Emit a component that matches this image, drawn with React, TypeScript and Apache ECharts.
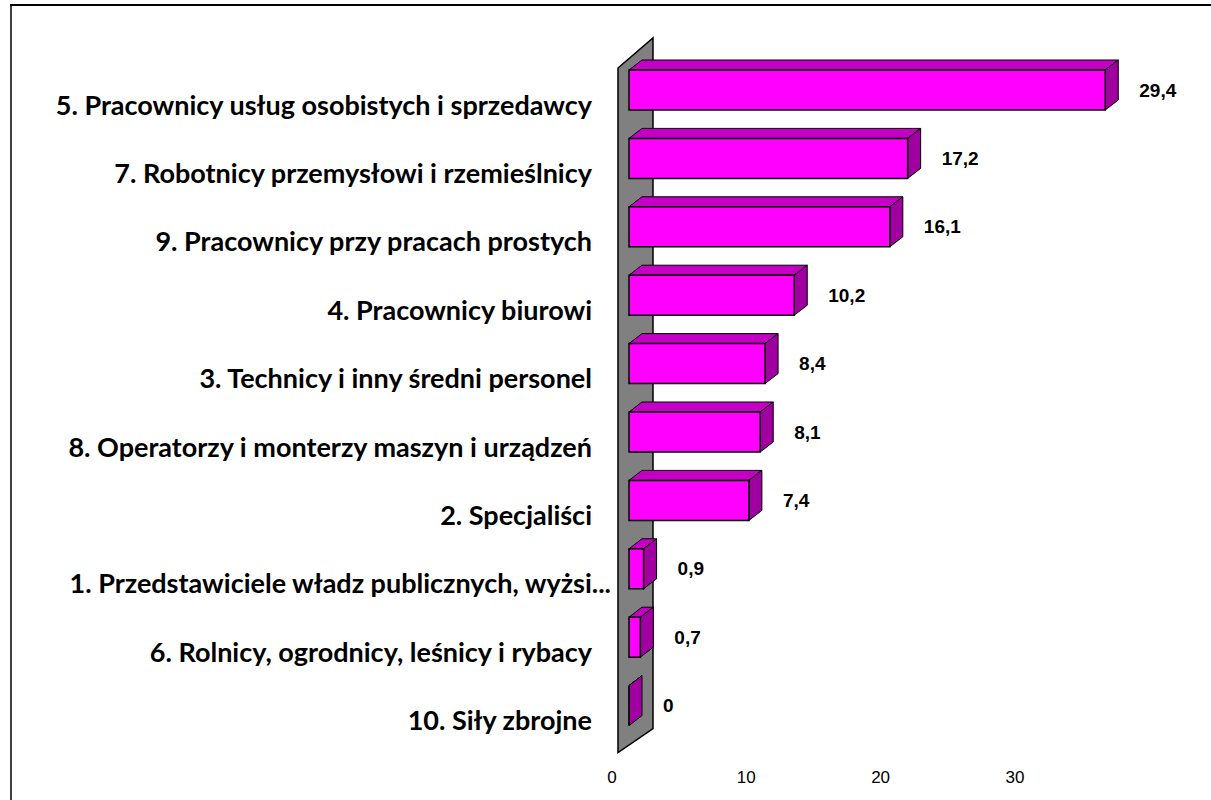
import React, { useEffect, useRef } from "react";
import * as echarts from "echarts";

const categories = [
  "5. Pracownicy usług osobistych i sprzedawcy",
  "7. Robotnicy przemysłowi i rzemieślnicy",
  "9. Pracownicy przy pracach prostych",
  "4. Pracownicy biurowi",
  "3. Technicy i inny średni personel",
  "8. Operatorzy i monterzy maszyn i urządzeń",
  "2. Specjaliści",
  "1. Przedstawiciele władz publicznych, wyżsi...",
  "6. Rolnicy, ogrodnicy, leśnicy i rybacy",
  "10. Siły zbrojne",
];
const values = [29.4, 17.2, 16.1, 10.2, 8.4, 8.1, 7.4, 0.9, 0.7, 0];
const truncatedIndex = 7;

const FRONT = "#FF00FF";
const TOP = "#C400C4";
const SIDE = "#A000A0";
const DX = 13;
const DY = 10;

export default function App() {
  const ref = useRef<HTMLDivElement>(null);
  useEffect(() => {
    if (!ref.current) return;
    const chart = echarts.init(ref.current, null, { renderer: "svg" });
    const labelFont = {
      fontFamily: "Lato",
      fontWeight: "bold" as const,
      fontSize: 27,
      color: "#000",
    };
    chart.setOption({
      animation: false,
      backgroundColor: "#fff",
      graphic: [
        { type: "line", shape: { x1: 10, y1: 5, x2: 1211, y2: 5 }, style: { stroke: "#000", lineWidth: 2 } },
        { type: "line", shape: { x1: 11, y1: 5, x2: 11, y2: 800 }, style: { stroke: "#000", lineWidth: 1.5 } },
      ],
      grid: [
        { left: 629, top: 55.8, width: 16.2 * 35, height: 684 },
        { left: 612, top: 700, width: 537.2, height: 64 },
      ],
      xAxis: [
        { type: "value", gridIndex: 0, min: 0, max: 35, show: false },
        {
          type: "value",
          gridIndex: 1,
          min: 0,
          max: 40,
          interval: 10,
          axisLine: { show: false },
          axisTick: { show: false },
          splitLine: { show: false },
          axisLabel: {
            showMaxLabel: false,
            margin: 5,
            fontSize: 17,
            fontFamily: "Liberation Sans",
            color: "#000",
          },
        },
      ],
      yAxis: [
        {
          type: "category",
          gridIndex: 0,
          inverse: true,
          data: categories,
          axisLine: { show: false },
          axisTick: { show: false },
          splitLine: { show: false },
          axisLabel: {
            margin: 18,
            interval: 0,
            formatter: (val: string, idx: number) =>
              idx === truncatedIndex ? `{w|${val}}` : `{n|${val}}`,
            rich: {
              n: { ...labelFont, padding: [28, 19, 0, 0] },
              w: { ...labelFont, padding: [28, 0, 0, 0] },
            },
          },
        },
        { type: "value", gridIndex: 1, show: false, min: 0, max: 1 },
      ],
      series: [
        {
          type: "custom",
          xAxisIndex: 0,
          yAxisIndex: 0,
          data: [[0, 0]],
          silent: true,
          renderItem: (params: any, api: any) => {
            const first = api.coord([0, 0]);
            const last = api.coord([0, categories.length - 1]);
            const x0 = first[0];
            return {
              type: "polygon",
              shape: {
                points: [
                  [x0 - 11, first[1] - 22],
                  [x0 + 24, first[1] - 52],
                  [x0 + 24, last[1] + 23],
                  [x0 - 11, last[1] + 47],
                ],
              },
              style: { fill: "#808080", stroke: "#000", lineWidth: 1.5 },
            };
          },
        },
        {
          type: "custom",
          xAxisIndex: 0,
          yAxisIndex: 0,
          data: values.map((v, i) => [v, i]),
          encode: { x: 0, y: 1 },
          silent: true,
          renderItem: (params: any, api: any) => {
            const v = api.value(0);
            const idx = api.value(1);
            const start = api.coord([0, idx]);
            const end = api.coord([v, idx]);
            const band = api.size([0, 1])[1];
            const h = band * 0.585;
            const cy = start[1];
            const top = cy - h / 2;
            const bot = cy + h / 2;
            const x0 = start[0];
            const x1 = end[0];
            return {
              type: "group",
              children: [
                {
                  type: "polygon",
                  shape: { points: [[x0, top], [x1, top], [x1 + DX, top - DY], [x0 + DX, top - DY]] },
                  style: { fill: TOP, stroke: "#000", lineWidth: 1 },
                },
                {
                  type: "polygon",
                  shape: { points: [[x1, top], [x1 + DX, top - DY], [x1 + DX, bot - DY], [x1, bot]] },
                  style: { fill: SIDE, stroke: "#000", lineWidth: 1 },
                },
                {
                  type: "rect",
                  shape: { x: x0, y: top, width: x1 - x0, height: h },
                  style: { fill: FRONT, stroke: "#000", lineWidth: 1.5 },
                },
                {
                  type: "text",
                  style: {
                    text: String(v).replace(".", ","),
                    x: x1 + 34,
                    y: cy,
                    align: "left",
                    verticalAlign: "middle",
                    font: 'bold 19px "Liberation Sans"',
                    fill: "#000",
                  },
                },
              ],
            };
          },
        },
      ],
    });
    return () => chart.dispose();
  }, []);
  return (
    <div
      ref={ref}
      style={{ position: "absolute", left: 0, top: 0, width: 1211, height: 800 }}
    />
  );
}
